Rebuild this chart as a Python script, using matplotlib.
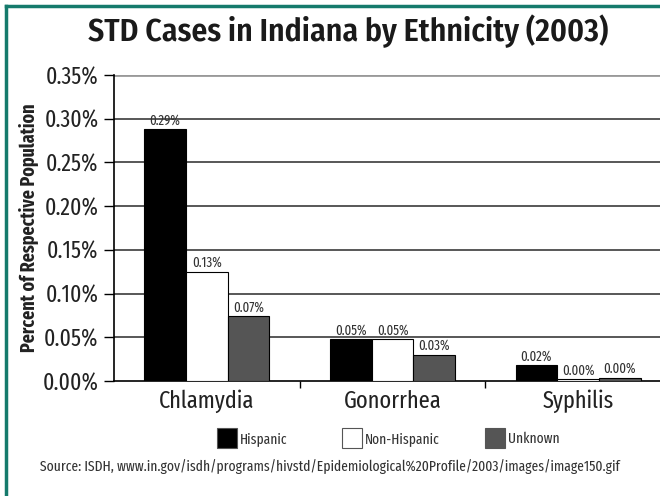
import matplotlib.pyplot as plt
import numpy as np
from matplotlib.patches import Rectangle
from matplotlib.lines import Line2D

cond = ['Fira Sans Condensed', 'PT Sans Narrow', 'DejaVu Sans']
xcond = ['Fira Sans Extra Condensed', 'Fira Sans Condensed', 'DejaVu Sans']
plt.rcParams['font.family'] = xcond

diseases = ['Chlamydia', 'Gonorrhea', 'Syphilis']
groups = ['Hispanic', 'Non-Hispanic', 'Unknown']
hispanic = [0.288, 0.048, 0.018]
non_hispanic = [0.125, 0.048, 0.002]
unknown = [0.074, 0.030, 0.004]
labels = [['0.29%', '0.05%', '0.02%'],
          ['0.13%', '0.05%', '0.00%'],
          ['0.07%', '0.03%', '0.00%']]
yticks = [0.00, 0.05, 0.10, 0.15, 0.20, 0.25, 0.30, 0.35]
source = 'Source: ISDH, www.in.gov/isdh/programs/hivstd/Epidemiological%20Profile/2003/images/image150.gif'

colors = ['#000000', '#ffffff', '#555555']

fig = plt.figure(figsize=(6.6, 4.96), dpi=100)
# axes runs a little past the right edge of the figure
ax = fig.add_axes([114 / 660, 1 - 381 / 496, 557 / 660, 306 / 496])

x = np.arange(len(diseases))
w = 0.225
for i, vals in enumerate([hispanic, non_hispanic, unknown]):
    pos = x + (i - 1) * w
    ax.bar(pos, vals, w, color=colors[i], edgecolor='black', linewidth=0.8, zorder=3)
    for p, v, t in zip(pos, vals, labels[i]):
        ax.text(p, v + 0.002, t, ha='center', va='bottom', fontsize=10, color='#333333', zorder=4)

ax.set_xlim(-0.5, 2.5)
ax.set_ylim(0, 0.35)
ax.set_yticks(yticks)
ax.set_yticklabels(['%.2f%%' % v for v in yticks], fontsize=17, color='#222222')
for v in yticks[1:-1]:
    ax.axhline(v, color='#2a2a2a', linewidth=1.1, zorder=1)
ax.axhline(0.35, color='#999999', linewidth=2.0, zorder=1)

ax.set_xticks([0.5, 1.5])
ax.set_xticklabels([])
ax.tick_params(axis='x', length=5, width=1, direction='out')
ax.tick_params(axis='y', length=7, width=1, direction='out', pad=4)
for i, d in enumerate(diseases):
    ax.text(i, -0.010, d, ha='center', va='top', fontsize=17.5, color='#222222')

for s in ['top', 'right']:
    ax.spines[s].set_visible(False)
ax.spines['left'].set_linewidth(1.2)
ax.spines['bottom'].set_linewidth(1.2)

ax.set_ylabel('Percent of Respective Population', fontsize=14, fontweight='bold', labelpad=3, color='#222222')

fig.text(348 / 660, 1 - 31 / 496, 'STD Cases in Indiana by Ethnicity (2003)', ha='center', va='center',
         fontsize=22.8, fontweight='semibold', color='#1a1a1a', family=cond)

# legend
leg_x = [217, 342, 485]
for lx, g, c in zip(leg_x, groups, colors):
    fig.patches.append(Rectangle((lx / 660, 1 - 448 / 496), 20 / 660, 20 / 496, facecolor=c,
                                 edgecolor='#555555', linewidth=0.8, transform=fig.transFigure))
    fig.text((lx + 23) / 660, 1 - 439 / 496, g, ha='left', va='center', fontsize=10.5, color='#333333')

fig.text(330 / 660, 1 - 467 / 496, source, ha='center', va='center', fontsize=10.6, color='#333333')

# frame lines on the top and left edges
fig.add_artist(Line2D([6 / 660, 6 / 660], [0, 1 - 6 / 496], color='#157a6c', linewidth=2.5))
fig.add_artist(Line2D([6 / 660, 1], [1 - 6 / 496, 1 - 6 / 496], color='#157a6c', linewidth=2.5))

fig.savefig('out.png', dpi=100)
